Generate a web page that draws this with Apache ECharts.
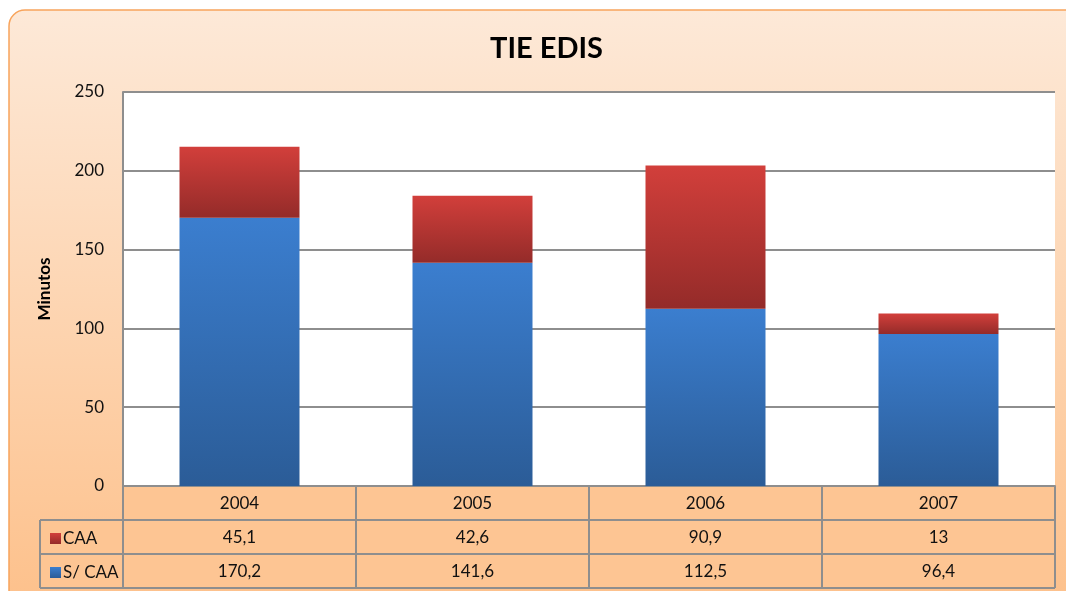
<!DOCTYPE html>
<html>
<head>
<meta charset="utf-8">
<title>TIE EDIS</title>
<script src="https://cdn.jsdelivr.net/npm/echarts@6/dist/echarts.min.js"></script>
<style>
  html, body { margin: 0; padding: 0; background: #fff; }
  #chart { width: 1066px; height: 591px; }
</style>
</head>
<body>
<div id="chart"></div>
<script>
// datos
var years = ['2004', '2005', '2006', '2007']
var caa = [45.1, 42.6, 90.9, 13]
var sinCaa = [170.2, 141.6, 112.5, 96.4]
var yTicks = { min: 0, max: 250, interval: 50 }

// layout (px)
var W = 1066
var gridLeft = 123
var gridRight = 1055
var gridTop = 92
var gridBottom = 486
var rowH = 34
var tableLeft = 40
var lineColor = '#8e8e8e'
var font = 'Lato, "Liberation Sans", sans-serif'

function fmt(v) {
  return String(v).replace('.', ',')
}

var chart = echarts.init(document.getElementById('chart'))

function grad(top, bottom) {
  return new echarts.graphic.LinearGradient(0, 0, 0, 1, [
    { offset: 0, color: top },
    { offset: 1, color: bottom }
  ])
}

function hline(y) {
  return {
    type: 'polyline',
    z: 10,
    shape: { points: [[tableLeft, y], [gridRight, y]] },
    style: { stroke: lineColor, lineWidth: 2, fill: null }
  }
}

var tableY1 = gridBottom + rowH
var tableY2 = gridBottom + rowH * 2
var tableY3 = gridBottom + rowH * 3

var option = {
  backgroundColor: '#fff',
  textStyle: { fontFamily: font },
  title: {
    text: 'TIE EDIS',
    left: 485,
    top: 29,
    textStyle: { fontSize: 29, fontWeight: 'bold', color: '#000', fontFamily: font }
  },
  graphic: [
    {
      type: 'rect',
      z: -10,
      shape: { x: 9, y: 10, width: W + 20, height: 620, r: 16 },
      style: {
        fill: grad('#fde9d8', '#fdbf88'),
        stroke: '#f8a45c',
        lineWidth: 1.5
      }
    },
    {
      // fondo de la tabla
      type: 'rect',
      z: -5,
      shape: { x: gridLeft, y: gridBottom, width: gridRight - gridLeft, height: rowH * 3 },
      style: { fill: '#fdc593' }
    },
    {
      type: 'rect',
      z: -5,
      shape: { x: tableLeft, y: tableY1, width: gridLeft - tableLeft, height: rowH * 2 },
      style: { fill: '#fdc593' }
    },
    {
      type: 'rect',
      z: -4,
      shape: { x: gridLeft, y: gridTop, width: gridRight - gridLeft, height: gridBottom - gridTop },
      style: { fill: '#fff' }
    },
    hline(tableY1),
    hline(tableY2),
    hline(tableY3),
    {
      type: 'polyline',
      z: 10,
      shape: { points: [[tableLeft, tableY1], [tableLeft, tableY3]] },
      style: { stroke: lineColor, lineWidth: 2, fill: null }
    }
  ],
  legend: {
    data: ['CAA', 'S/ CAA'],
    orient: 'vertical',
    left: 45,
    top: tableY1 + 5,
    itemWidth: 11,
    itemHeight: 11,
    itemGap: 17,
    icon: 'rect',
    textStyle: { fontSize: 17, color: '#111', fontFamily: font, padding: [0, 0, 0, -3] }
  },
  grid: {
    left: gridLeft,
    right: W - gridRight,
    top: gridTop,
    bottom: 591 - gridBottom,
    containLabel: false
  },
  xAxis: [
    {
      type: 'category',
      data: years,
      position: 'bottom',
      axisLine: { lineStyle: { color: lineColor, width: 2 } },
      axisTick: { show: true, interval: 0, length: rowH * 3, lineStyle: { color: lineColor, width: 2 } },
      axisLabel: { fontSize: 17, color: '#111', margin: 9, fontFamily: font }
    },
    {
      type: 'category',
      data: caa.map(fmt),
      position: 'bottom',
      offset: rowH,
      axisLine: { show: false },
      axisTick: { show: false },
      axisLabel: { fontSize: 17, color: '#111', margin: 9, fontFamily: font }
    },
    {
      type: 'category',
      data: sinCaa.map(fmt),
      position: 'bottom',
      offset: rowH * 2,
      axisLine: { show: false },
      axisTick: { show: false },
      axisLabel: { fontSize: 17, color: '#111', margin: 9, fontFamily: font }
    }
  ],
  yAxis: {
    type: 'value',
    min: yTicks.min,
    max: yTicks.max,
    interval: yTicks.interval,
    name: 'Minutos',
    nameLocation: 'middle',
    nameGap: 70,
    nameTextStyle: { fontSize: 17, fontWeight: 'bold', color: '#000', fontFamily: font },
    axisLine: { show: true, lineStyle: { color: lineColor, width: 2 } },
    axisTick: { show: false },
    axisLabel: { fontSize: 17, color: '#111', margin: 19, fontFamily: font },
    splitLine: { lineStyle: { color: lineColor, width: 2 } }
  },
  series: [
    {
      name: 'S/ CAA',
      type: 'bar',
      stack: 'total',
      data: sinCaa,
      barWidth: '51.5%',
      itemStyle: { color: grad('#3b7ecf', '#2b5c97') }
    },
    {
      name: 'CAA',
      type: 'bar',
      stack: 'total',
      data: caa,
      barWidth: '51.5%',
      itemStyle: { color: grad('#d23f3b', '#942b29') }
    }
  ]
}

chart.setOption(option)
</script>
</body>
</html>
